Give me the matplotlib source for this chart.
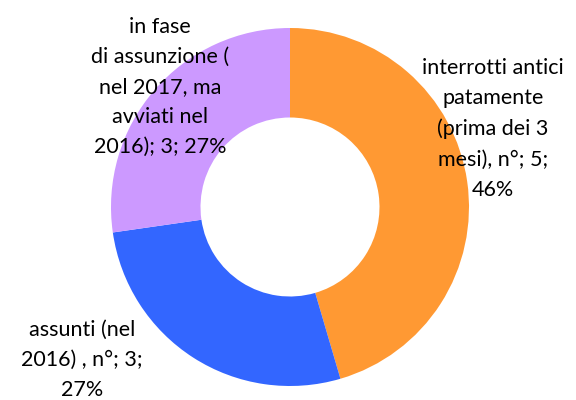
import matplotlib.pyplot as plt

# dati
categorie = ["interrotti antici\npatamente\n(prima dei 3\nmesi), n°",
             "assunti (nel\n2016) , n°",
             "in fase\ndi assunzione (\nnel 2017, ma\navviati nel\n2016)"]
valori = [5, 3, 3]
percentuali = [46, 27, 27]
colori = ["#FF9933", "#3366FF", "#CC99FF"]

plt.rcParams["font.family"] = ["Lato", "DejaVu Sans"]

fig = plt.figure(figsize=(5.76, 4.0), dpi=100)
ax = fig.add_axes([0, 0, 1, 1])

# centro (290, 207) px, raggio 179 px
r = 179.0
cx, cy = 290.0, 207.0
ax.pie(valori, colors=colori, startangle=90, counterclock=False, radius=1,
       wedgeprops=dict(width=0.5, edgecolor="none"))
ax.set_xlim(-cx / r, (576 - cx) / r)
ax.set_ylim(-(400 - cy) / r, cy / r)
ax.set_aspect("equal")
ax.axis("off")

# posizioni delle etichette (pixel)
pos = [(493, 129), (82, 360), (160, 87)]
testi = [f"{c}; {v};\n{p}%" if i < 2 else f"{c}; {v}; {p}%"
         for i, (c, v, p) in enumerate(zip(categorie, valori, percentuali))]
for (px, py), t in zip(pos, testi):
    ax.text((px - cx) / r, (cy - py) / r, t, ha="center", va="center",
            fontsize=15.5, linespacing=1.63, color="black")

plt.savefig("out.png", dpi=100)
